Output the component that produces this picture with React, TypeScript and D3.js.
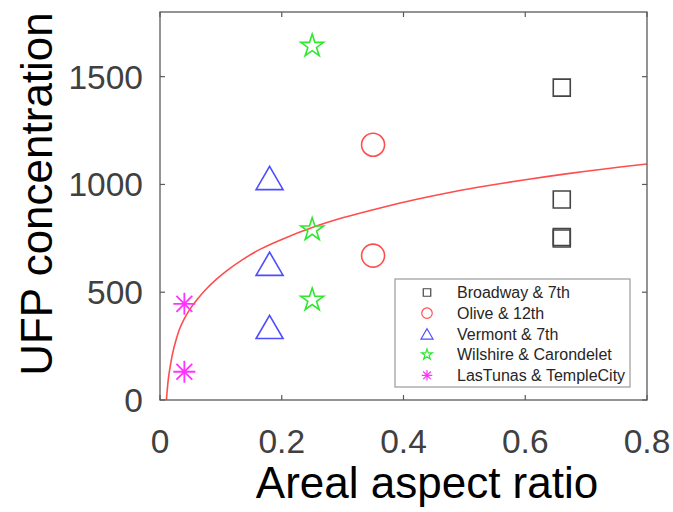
import React from "react";
import * as d3 from "d3";

const seriesNames = [
  "Broadway & 7th",
  "Olive & 12th",
  "Vermont & 7th",
  "Wilshire & Carondelet",
  "LasTunas & TempleCity",
];
const broadwayX = [0.66, 0.66, 0.66, 0.66];
const broadwayY = [1449, 930, 756, 749];
const oliveX = [0.35, 0.35];
const oliveY = [1184, 670];
const vermontX = [0.18, 0.18, 0.18];
const vermontY = [1030, 632, 339];
const wilshireX = [0.25, 0.25, 0.25];
const wilshireY = [1642, 790, 464];
const lastunasX = [0.04, 0.04];
const lastunasY = [446, 131];

const fitX = [0.0105, 0.012, 0.014, 0.017, 0.021, 0.026, 0.032, 0.04, 0.05, 0.062, 0.076, 0.092, 0.11, 0.135, 0.165, 0.2, 0.25, 0.3, 0.36, 0.42, 0.48, 0.54, 0.6, 0.67, 0.73, 0.8];
const fitY = [0, 50, 105, 160, 220, 275, 328, 377, 425, 470, 515, 558, 600, 650, 700, 745, 800, 845, 890, 930, 965, 995, 1022, 1050, 1072, 1095];

const xTicks = [0, 0.2, 0.4, 0.6, 0.8];
const yTicks = [0, 500, 1000, 1500];
const xLabel = "Areal aspect ratio";
const yLabel = "UFP concentration";

const W = 673;
const H = 512;
const L = 160, R = 647, T = 12, B = 400;
const FONT = "Arial, 'Liberation Sans', Helvetica, sans-serif";

type Kind = "square" | "circle" | "triangle" | "star" | "asterisk";

function markerPath(kind: Kind, s: number): string {
  const h = s / 2;
  if (kind === "square") return `M${-h},${-h}H${h}V${h}H${-h}Z`;
  if (kind === "circle") return d3.symbol(d3.symbolCircle, Math.PI * h * h)() || "";
  if (kind === "triangle") {
    const th = s * 0.86;
    return `M0,${-th / 2}L${h},${th / 2}L${-h},${th / 2}Z`;
  }
  if (kind === "star") {
    const r = h;
    return d3.symbol(d3.symbolStar, (r * r) / 0.8908130915292852)() || "";
  }
  const d = h * 0.72;
  return `M${-h},0H${h}M0,${-h}V${h}M${-d},${-d}L${d},${d}M${-d},${d}L${d},${-d}`;
}

const series = [
  { name: seriesNames[0], xs: broadwayX, ys: broadwayY, kind: "square" as Kind, color: "#454545", size: 17, lsize: 7.5 },
  { name: seriesNames[1], xs: oliveX, ys: oliveY, kind: "circle" as Kind, color: "#ff4d4d", size: 23, lsize: 10.5 },
  { name: seriesNames[2], xs: vermontX, ys: vermontY, kind: "triangle" as Kind, color: "#4d4dff", size: 27, lsize: 12 },
  { name: seriesNames[3], xs: wilshireX, ys: wilshireY, kind: "star" as Kind, color: "#2ee82e", size: 24, lsize: 11.5 },
  { name: seriesNames[4], xs: lastunasX, ys: lastunasY, kind: "asterisk" as Kind, color: "#ff33ff", size: 22, lsize: 10.5 },
];

export default function App() {
  const x = d3.scaleLinear().domain([0, 0.8]).range([L, R]);
  const y = d3.scaleLinear().domain([0, 1800]).range([B, T]);
  const line = d3
    .line<number>()
    .x((_, i) => x(fitX[i]))
    .y((d) => y(d))
    .curve(d3.curveCatmullRom.alpha(0.5));
  const axisColor = "#5a5a5a";
  const tickLen = 5;

  const legX = 395, legY = 279, legW = 235, legH = 108;
  const rowY0 = 292.5, rowStep = 20.7;

  return (
    <svg width={W} height={H} style={{ position: "absolute", left: 0, top: 0, background: "#fff" }}>
      <rect x={0} y={0} width={W} height={H} fill="#fff" />
      <path d={line(fitY) || ""} fill="none" stroke="#ff4d4d" strokeWidth={1.6} />
      {series.map((s) =>
        s.xs.map((xv, i) => (
          <path
            key={s.name + i}
            d={markerPath(s.kind, s.size)}
            transform={`translate(${x(xv)},${y(s.ys[i])})`}
            fill="none"
            stroke={s.color}
            strokeWidth={s.kind === "asterisk" ? 1.8 : 1.6}
          />
        ))
      )}
      <rect x={L} y={T} width={R - L} height={B - T} fill="none" stroke={axisColor} strokeWidth={1.3} />
      {xTicks.map((t) => (
        <g key={"xt" + t}>
          <line x1={x(t)} x2={x(t)} y1={B} y2={B - tickLen} stroke={axisColor} strokeWidth={1.2} />
          <line x1={x(t)} x2={x(t)} y1={T} y2={T + tickLen} stroke={axisColor} strokeWidth={1.2} />
          <text x={x(t)} y={453} textAnchor="middle" fontFamily={FONT} fontSize={33.5} fill="#404040">
            {t === 0 ? "0" : d3.format(".1f")(t)}
          </text>
        </g>
      ))}
      {yTicks.map((t) => (
        <g key={"yt" + t}>
          <line x1={L} x2={L + tickLen} y1={y(t)} y2={y(t)} stroke={axisColor} strokeWidth={1.2} />
          <line x1={R} x2={R - tickLen} y1={y(t)} y2={y(t)} stroke={axisColor} strokeWidth={1.2} />
          <text x={143} y={y(t) + 12} textAnchor="end" fontFamily={FONT} fontSize={33.5} fill="#404040">
            {t}
          </text>
        </g>
      ))}
      <text x={427} y={498} textAnchor="middle" fontFamily={FONT} fontSize={44} fill="#000">
        {xLabel}
      </text>
      <text
        transform={`translate(52,194) rotate(-90)`}
        textAnchor="middle"
        fontFamily={FONT}
        fontSize={44}
        fill="#000"
      >
        {yLabel}
      </text>
      <rect x={legX} y={legY} width={legW} height={legH} fill="#fff" stroke="#9a9a9a" strokeWidth={1.2} />
      {series.map((s, i) => (
        <g key={"lg" + i}>
          <path
            d={markerPath(s.kind, s.lsize)}
            transform={`translate(427,${rowY0 + i * rowStep})`}
            fill="none"
            stroke={s.color}
            strokeWidth={1.2}
          />
          <text x={457} y={rowY0 + i * rowStep + 5.8} fontFamily={FONT} fontSize={16} fill="#262626">
            {s.name}
          </text>
        </g>
      ))}
    </svg>
  );
}
